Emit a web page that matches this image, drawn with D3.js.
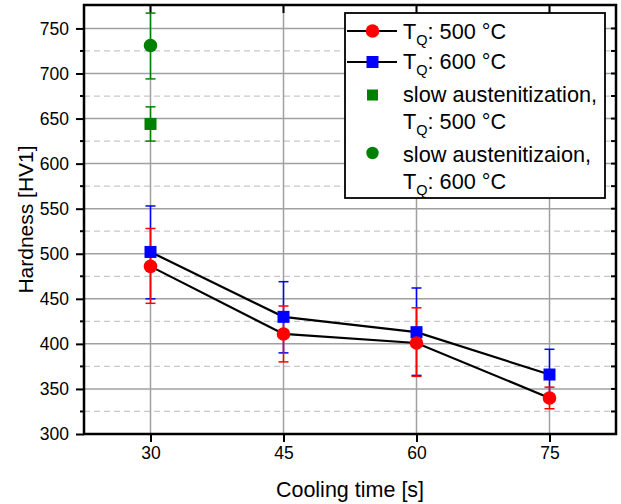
<!DOCTYPE html>
<html>
<head>
<meta charset="utf-8">
<script src="https://cdn.jsdelivr.net/npm/d3@7"></script>
<style>
  body { margin: 0; background: #fff; }
  svg { display: block; font-family: Arial, "Liberation Sans", sans-serif; }
</style>
</head>
<body>
<div id="chart"></div>
<script>
// cooling times (x) and hardness values
const coolingTimes = [30, 45, 60, 75];

const tq500 = [486, 411, 401, 340];
const tq500ErrHi = [528, 442, 440, 352];
const tq500ErrLo = [445, 380, 364, 328];

const tq600 = [502, 430, 413, 366];
const tq600ErrHi = [553, 469, 462, 394];
const tq600ErrLo = [450, 390, 365, 338];

const slow500 = { x: 30, y: 644, hi: 663, lo: 625 };
const slow600 = { x: 30, y: 731, hi: 767, lo: 694 };

const xTicks = [30, 45, 60, 75];
const yMajor = [300, 350, 400, 450, 500, 550, 600, 650, 700, 750];
const yMinor = [325, 375, 425, 475, 525, 575, 625, 675, 725];

const W = 621, H = 504;
const margin = { top: 5, right: 5, bottom: 70, left: 84 };

const svg = d3.select('#chart').append('svg')
  .attr('width', W).attr('height', H);

const x = d3.scaleLinear().domain([22.5, 82.5]).range([margin.left, W - margin.right]);
const y = d3.scaleLinear().domain([300, 776]).range([H - margin.bottom, margin.top]);

const x0 = x.range()[0], x1 = x.range()[1];
const yb = y.range()[0], yt = y.range()[1];

// grid
svg.append('g').selectAll('line').data(yMinor).join('line')
  .attr('x1', x0).attr('x2', x1)
  .attr('y1', d => y(d)).attr('y2', d => y(d))
  .attr('stroke', '#c8c8c8').attr('stroke-width', 1.2).attr('stroke-dasharray', '6,4');
svg.append('g').selectAll('line').data(yMajor.slice(1)).join('line')
  .attr('x1', x0).attr('x2', x1)
  .attr('y1', d => y(d)).attr('y2', d => y(d))
  .attr('stroke', '#a0a0a0').attr('stroke-width', 1.5);
svg.append('g').selectAll('line').data(xTicks).join('line')
  .attr('x1', d => x(d)).attr('x2', d => x(d))
  .attr('y1', yt).attr('y2', yb)
  .attr('stroke', '#a0a0a0').attr('stroke-width', 1.5);

// axes
const yAxis = d3.axisLeft(y).tickValues(yMajor).tickSize(8).tickPadding(7).tickFormat(d3.format('d'));
const gy = svg.append('g').attr('transform', `translate(${x0},0)`).call(yAxis);
gy.select('.domain').remove();
gy.selectAll('.tick line').attr('stroke', '#000').attr('stroke-width', 2);
gy.selectAll('.tick text').attr('font-size', 17.5).attr('fill', '#000').attr('font-family', 'Arial, "Liberation Sans", sans-serif');
svg.append('g').selectAll('line').data(yMinor).join('line')
  .attr('x1', x0 - 4).attr('x2', x0)
  .attr('y1', d => y(d)).attr('y2', d => y(d))
  .attr('stroke', '#000').attr('stroke-width', 2);

const xAxis = d3.axisBottom(x).tickValues(xTicks).tickSize(8).tickPadding(5);
const gx = svg.append('g').attr('transform', `translate(0,${yb})`).call(xAxis);
gx.select('.domain').remove();
gx.selectAll('.tick line').attr('stroke', '#000').attr('stroke-width', 2);
gx.selectAll('.tick text').attr('font-size', 17.5).attr('fill', '#000').attr('font-family', 'Arial, "Liberation Sans", sans-serif');

// inward ticks on right and top
svg.append('g').selectAll('line').data(yMajor.concat(yMinor)).join('line')
  .attr('x1', x1 - 5).attr('x2', x1)
  .attr('y1', d => y(d)).attr('y2', d => y(d))
  .attr('stroke', '#000').attr('stroke-width', 2);
svg.append('g').selectAll('line').data(xTicks).join('line')
  .attr('x1', d => x(d)).attr('x2', d => x(d))
  .attr('y1', yt).attr('y2', yt + 8)
  .attr('stroke', '#000').attr('stroke-width', 2);

// frame
svg.append('rect')
  .attr('x', x0).attr('y', yt).attr('width', x1 - x0).attr('height', yb - yt)
  .attr('fill', 'none').attr('stroke', '#000').attr('stroke-width', 2.5);

// axis titles
svg.append('text')
  .attr('x', (x0 + x1) / 2).attr('y', 497)
  .attr('text-anchor', 'middle').attr('font-size', 21.5)
  .text('Cooling time [s]');
svg.append('text')
  .attr('transform', `translate(33,${(yt + yb) / 2}) rotate(-90)`)
  .attr('text-anchor', 'middle').attr('font-size', 21)
  .text('Hardness [HV1]');

// series lines
const line = d3.line().x(d => x(d[0])).y(d => y(d[1]));
svg.append('path').datum(d3.zip(coolingTimes, tq600))
  .attr('d', line).attr('fill', 'none').attr('stroke', '#000').attr('stroke-width', 2.2);
svg.append('path').datum(d3.zip(coolingTimes, tq500))
  .attr('d', line).attr('fill', 'none').attr('stroke', '#000').attr('stroke-width', 2.2);

// error bars
function errorBars(xs, lo, hi, color) {
  const g = svg.append('g');
  xs.forEach((xv, i) => {
    const cx = x(xv);
    g.append('line').attr('x1', cx).attr('x2', cx).attr('y1', y(lo[i])).attr('y2', y(hi[i]))
      .attr('stroke', color).attr('stroke-width', 1.5);
    [lo[i], hi[i]].forEach(v => {
      g.append('line').attr('x1', cx - 5).attr('x2', cx + 5).attr('y1', y(v)).attr('y2', y(v))
        .attr('stroke', color).attr('stroke-width', 1.5);
    });
  });
}
errorBars(coolingTimes, tq600ErrLo, tq600ErrHi, '#0000ff');
errorBars(coolingTimes, tq500ErrLo, tq500ErrHi, '#ff0000');
errorBars([slow500.x], [slow500.lo], [slow500.hi], '#008000');
errorBars([slow600.x], [slow600.lo], [slow600.hi], '#008000');

// markers
svg.append('g').selectAll('rect').data(d3.zip(coolingTimes, tq600)).join('rect')
  .attr('x', d => x(d[0]) - 6).attr('y', d => y(d[1]) - 6)
  .attr('width', 12).attr('height', 12).attr('fill', '#0000ff');
svg.append('g').selectAll('circle').data(d3.zip(coolingTimes, tq500)).join('circle')
  .attr('cx', d => x(d[0])).attr('cy', d => y(d[1])).attr('r', 6.8).attr('fill', '#ff0000');
svg.append('rect')
  .attr('x', x(slow500.x) - 6).attr('y', y(slow500.y) - 6)
  .attr('width', 12).attr('height', 12).attr('fill', '#008000');
svg.append('circle')
  .attr('cx', x(slow600.x)).attr('cy', y(slow600.y)).attr('r', 6.8).attr('fill', '#008000');

// legend
const lg = svg.append('g');
lg.append('rect').attr('x', 345).attr('y', 13).attr('width', 260).attr('height', 185)
  .attr('fill', '#fff').attr('stroke', '#000').attr('stroke-width', 1.8);

function tqText(ty, val) {
  const t = lg.append('text').attr('x', 403).attr('y', ty).attr('font-size', 21.7);
  t.append('tspan').text('T');
  t.append('tspan').attr('font-size', 14.5).attr('dy', 6).text('Q');
  t.append('tspan').attr('dy', -6).text(`: ${val} °C`);
}

lg.append('line').attr('x1', 347).attr('x2', 397).attr('y1', 31).attr('y2', 31).attr('stroke', '#000').attr('stroke-width', 2);
lg.append('circle').attr('cx', 372.5).attr('cy', 31).attr('r', 6.8).attr('fill', '#ff0000');
tqText(38.5, 500);

lg.append('line').attr('x1', 347).attr('x2', 397).attr('y1', 62).attr('y2', 62).attr('stroke', '#000').attr('stroke-width', 2);
lg.append('rect').attr('x', 366.5).attr('y', 56).attr('width', 12).attr('height', 12).attr('fill', '#0000ff');
tqText(68.5, 600);

lg.append('rect').attr('x', 367).attr('y', 89.5).attr('width', 11).attr('height', 11).attr('fill', '#008000');
lg.append('text').attr('x', 403).attr('y', 101.5).attr('font-size', 21.7).text('slow austenitization,');
tqText(129, 500);

lg.append('circle').attr('cx', 372.5).attr('cy', 153).attr('r', 6.2).attr('fill', '#008000');
lg.append('text').attr('x', 403).attr('y', 162).attr('font-size', 21.7).text('slow austenitizaion,');
tqText(189, 600);
</script>
</body>
</html>
